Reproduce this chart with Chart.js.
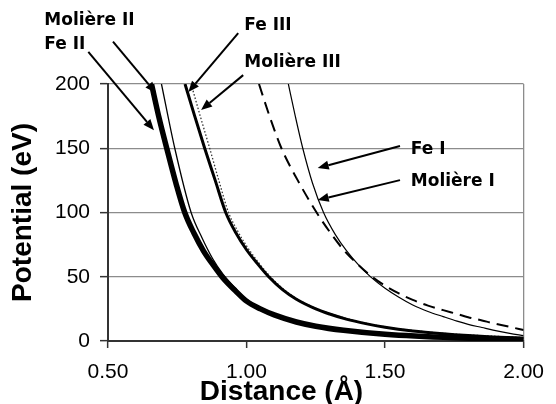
<!DOCTYPE html>
<html>
<head>
<meta charset="utf-8">
<script src="https://cdn.jsdelivr.net/npm/chart.js@4.4.0/dist/chart.umd.min.js"></script>
<style>
  html, body { margin: 0; padding: 0; background: #fff; }
</style>
</head>
<body>
<canvas id="chart" width="556" height="404"></canvas>
<script>
// interatomic potentials: distance (Å) vs potential (eV)
const feIDist       = [1.151, 1.176, 1.203, 1.238, 1.278, 1.32, 1.36, 1.405, 1.45, 1.50, 1.55, 1.60, 1.655, 1.71, 1.76, 1.80, 1.85, 1.89, 1.95, 2.00]
const feIPot        = [200,   175,   150,   123,   100,   83,   70.5, 59,    49.5, 41,   34,   28,   23,    19,   15.5, 13,   10.5, 8.5,  6,    4.2]

const moliereIDist  = [1.045, 1.083, 1.126, 1.185, 1.253, 1.30, 1.35, 1.40, 1.45, 1.50, 1.55, 1.60, 1.655, 1.71, 1.76, 1.80, 1.85, 1.887, 1.95, 2.00]
const moliereIPot   = [200,   175,   150,   125,   100,   85,   71,   60,   50.5, 43,   37,   32,   27.5,  24,   21,   18.5, 16,   14,    11,   8.5]

const feIIDist      = [0.657, 0.685, 0.712, 0.745, 0.777, 0.81, 0.845, 0.88, 0.915, 0.96, 1.00, 1.05, 1.10, 1.18, 1.25, 1.35, 1.50, 1.75, 2.00]
const feIIPot       = [200,   173,   150,   123,   100,   84,   70,    59,   49,    39,   31,   25,   20.3, 14.8, 11.5, 8.3,  5.2,  2.5,  1.2]

const moliereIIDist = [0.693, 0.741, 0.80, 0.84, 0.878, 0.915, 0.96, 1.00, 1.10, 1.25, 1.50, 1.75, 2.00]
const moliereIIPot  = [200,   150,   100,  80,   64,    52,    41,   32.5, 21,   12.3, 5.8,  3,    1.7]

const feIIIDist     = [0.778, 0.813, 0.849, 0.887, 0.925, 0.962, 1.00, 1.04, 1.08, 1.13, 1.18, 1.25, 1.30, 1.36, 1.43, 1.50, 1.60, 1.71, 1.80, 1.89, 2.00]
const feIIIPot      = [200,   175,   150,   125,   100,   84,    71,   60,   50,   40,   32.5, 25,   21,   17,   13.5, 10.7, 7.8,  5.6,  4.2,  3.1,  2.2]

const moliereIIIDist = [0.80, 0.833, 0.867, 0.90, 0.935, 0.967, 1.00, 1.04, 1.08, 1.13, 1.18, 1.25, 1.36, 1.50, 1.71, 2.00]
const moliereIIIPot  = [200,  175,   150,   125,  100,   86,    74,   62,   51.5, 41,   33,   25.5, 17.5, 11,   6,    2.6]

const xTicks = [0.5, 1.0, 1.5, 2.0]

function pts(xs, ys) {
  return xs.map((x, i) => ({ x: x, y: ys[i] }))
}

// curve callouts, anchored in data units
const callouts = [
  { text: 'Molière II',  x: 0.270, y: 249,   fromX: 0.518, fromY: 233,   tipX: 0.673, tipY: 193 },
  { text: 'Fe II',       x: 0.270, y: 231,   fromX: 0.429, fromY: 225,   tipX: 0.666, tipY: 164 },
  { text: 'Fe III',      x: 0.992, y: 245.8, fromX: 0.970, fromY: 239.6, tipX: 0.790, tipY: 193.7 },
  { text: 'Molière III', x: 0.992, y: 217,   fromX: 0.988, fromY: 206.9, tipX: 0.836, tipY: 179.7 },
  { text: 'Fe I',        x: 1.593, y: 148.6, fromX: 1.554, fromY: 151.7, tipX: 1.257, tipY: 134.6 },
  { text: 'Molière I',   x: 1.593, y: 124.4, fromX: 1.554, fromY: 125.2, tipX: 1.257, tipY: 109.7 }
]

const calloutPlugin = {
  id: 'callouts',
  afterDraw(chart) {
    const ctx = chart.ctx
    const xs = chart.scales.x
    const ys = chart.scales.y
    ctx.save()
    ctx.fillStyle = '#000'
    ctx.strokeStyle = '#000'
    ctx.lineWidth = 2
    callouts.forEach(c => {
      const x0 = xs.getPixelForValue(c.fromX), y0 = ys.getPixelForValue(c.fromY)
      const x1 = xs.getPixelForValue(c.tipX),  y1 = ys.getPixelForValue(c.tipY)
      const ang = Math.atan2(y1 - y0, x1 - x0)
      const head = 11, half = 4.5
      const bx = x1 - head * Math.cos(ang), by = y1 - head * Math.sin(ang)
      ctx.beginPath()
      ctx.moveTo(x0, y0)
      ctx.lineTo(bx, by)
      ctx.stroke()
      ctx.beginPath()
      ctx.moveTo(x1, y1)
      ctx.lineTo(bx + half * Math.sin(ang), by - half * Math.cos(ang))
      ctx.lineTo(bx - half * Math.sin(ang), by + half * Math.cos(ang))
      ctx.closePath()
      ctx.fill()

      ctx.font = 'bold 17px "DejaVu Sans"'
      ctx.textAlign = 'left'
      ctx.textBaseline = 'middle'
      ctx.fillText(c.text, xs.getPixelForValue(c.x), ys.getPixelForValue(c.y))
    })

    // x axis title sits left of centre
    ctx.font = 'bold 28px "Liberation Sans"'
    ctx.textAlign = 'center'
    ctx.textBaseline = 'alphabetic'
    ctx.fillText('Distance (Å)', 281.5, 400)
    ctx.restore()
  }
}

const ctx = document.getElementById('chart').getContext('2d')
const chart = new Chart(ctx, {
  type: 'line',
  data: {
    datasets: [
      {
        label: 'Fe II',
        data: pts(feIIDist, feIIPot),
        borderColor: '#000',
        borderWidth: 5.5,
        order: 2
      },
      {
        label: 'Molière II',
        data: pts(moliereIIDist, moliereIIPot),
        borderColor: '#000',
        borderWidth: 1.3,
        order: 3
      },
      {
        label: 'Fe III',
        data: pts(feIIIDist, feIIIPot),
        borderColor: '#000',
        borderWidth: 3,
        order: 1
      },
      {
        label: 'Molière III',
        data: pts(moliereIIIDist, moliereIIIPot),
        borderColor: '#333',
        borderWidth: 1.3,
        borderDash: [1.5, 2],
        order: 4
      },
      {
        label: 'Fe I',
        data: pts(feIDist, feIPot),
        borderColor: '#000',
        borderWidth: 1.2,
        order: 5
      },
      {
        label: 'Molière I',
        data: pts(moliereIDist, moliereIPot),
        borderColor: '#000',
        borderWidth: 2,
        borderDash: [12, 7],
        order: 6
      }
    ]
  },
  options: {
    responsive: false,
    animation: false,
    layout: {
      padding: { top: 84, right: 24, left: 0, bottom: 0 }
    },
    elements: {
      point: { radius: 0 },
      line: { cubicInterpolationMode: 'monotone', borderCapStyle: 'butt', fill: false }
    },
    scales: {
      x: {
        type: 'linear',
        min: 0.5,
        max: 2.0,
        afterFit: s => { s.height = 63 },
        afterBuildTicks: s => { s.ticks = xTicks.map(v => ({ value: v })) },
        ticks: {
          padding: 12,
          color: '#000',
          font: { family: 'Liberation Sans', size: 21 },
          callback: v => Number(v).toFixed(2),
          maxRotation: 0
        },
        grid: {
          drawOnChartArea: true,
          color: c => (c.tick && c.tick.value === 2 ? '#8c8c8c' : 'rgba(0,0,0,0)'),
          lineWidth: 1.3,
          tickLength: 7,
          tickColor: '#333',
          tickWidth: 1.5
        },
        border: { color: '#333', width: 2 }
      },
      y: {
        min: 0,
        max: 200,
        afterFit: s => { s.width = 108 },
        ticks: {
          stepSize: 50,
          padding: 10,
          color: '#000',
          font: { family: 'Liberation Sans', size: 21 }
        },
        grid: {
          color: '#8c8c8c',
          lineWidth: 1.3,
          tickLength: 8,
          tickColor: '#333',
          tickWidth: 1.5
        },
        border: { color: '#333', width: 2 },
        title: {
          display: true,
          text: 'Potential (eV)',
          color: '#000',
          font: { family: 'Liberation Sans', size: 28, weight: 'bold' },
          padding: { top: 6, bottom: 0 }
        }
      }
    },
    plugins: {
      legend: { display: false },
      tooltip: { enabled: false }
    }
  },
  plugins: [calloutPlugin]
})
</script>
</body>
</html>
